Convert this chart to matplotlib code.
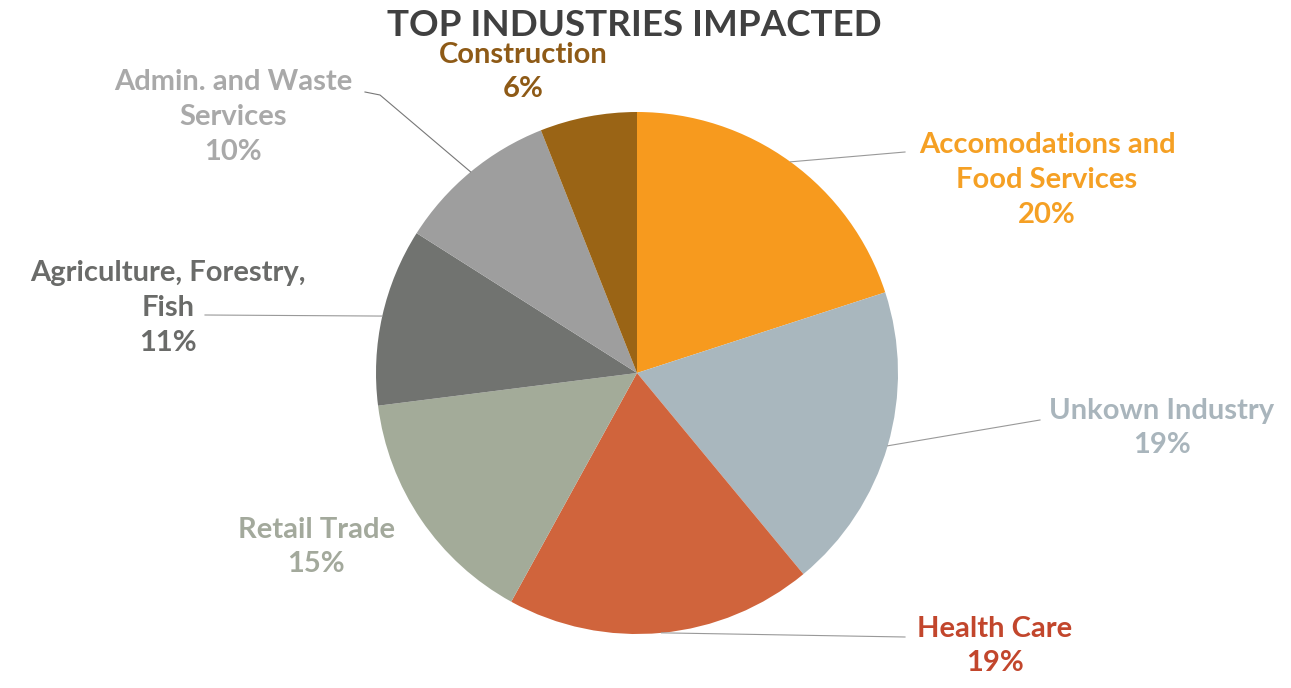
import matplotlib.pyplot as plt
import numpy as np

industries = ["Accomodations and\nFood Services", "Unkown Industry", "Health Care",
              "Retail Trade", "Agriculture, Forestry,\nFish", "Admin. and Waste\nServices",
              "Construction"]
shares = [20, 19, 19, 15, 11, 10, 6]
wedge_colors = ["#F79A1E", "#A9B7BE", "#D0643C", "#A3AB99", "#717370", "#9E9E9E", "#9A6415"]
text_colors = ["#F5A024", "#A9B5BC", "#C2462C", "#A3A99C", "#6A6B69", "#A9A9A9", "#8E5A16"]

# label centre (pixels) and optional leader line end
label_pos = [(1047, 180), (1162, 428), (995, 646), (316, 547), (168, 308), (233, 117), (523, 72)]
leader_end = [(905, 152), (1040, 420), (905, 637), None, (205, 315), (365, 92), None]

W, H = 1291, 688
fig = plt.figure(figsize=(W / 100, H / 100), dpi=100)
ax = fig.add_axes([0, 0, 1, 1])

cx, cy, r = 637, H - 373, 261
wedges, _ = ax.pie(shares, colors=wedge_colors, startangle=90, counterclock=False,
                   center=(cx, cy), radius=r, frame=True)
ax.set_xlim(0, W)
ax.set_ylim(0, H)
ax.set_aspect("equal")
ax.axis("off")

fam = ['Lato', 'DejaVu Sans']

for w, name, val, col, pos, end in zip(wedges, industries, shares, text_colors,
                                       label_pos, leader_end):
    ang = np.deg2rad((w.theta1 + w.theta2) / 2)
    if end is not None:
        x0 = cx + r * np.cos(ang)
        y0 = cy + r * np.sin(ang)
        if name.startswith("Admin"):
            ax.plot([x0, 380, end[0]], [y0, H - 95, H - end[1]], color="#777777", lw=0.8)
        else:
            ax.plot([x0, end[0]], [y0, H - end[1]], color="#999999", lw=0.8)
    ax.text(pos[0], H - pos[1], name + "\n" + str(val) + "%", ha="center", va="center",
            color=col, fontsize=21, fontweight="bold", linespacing=1.42, family=fam)

ax.text(634, H - 26, "TOP INDUSTRIES IMPACTED", ha="center", va="center",
        color="#404040", fontsize=26.5, fontweight="bold", family=fam)

fig.savefig("out.png", dpi=100, facecolor="white")
